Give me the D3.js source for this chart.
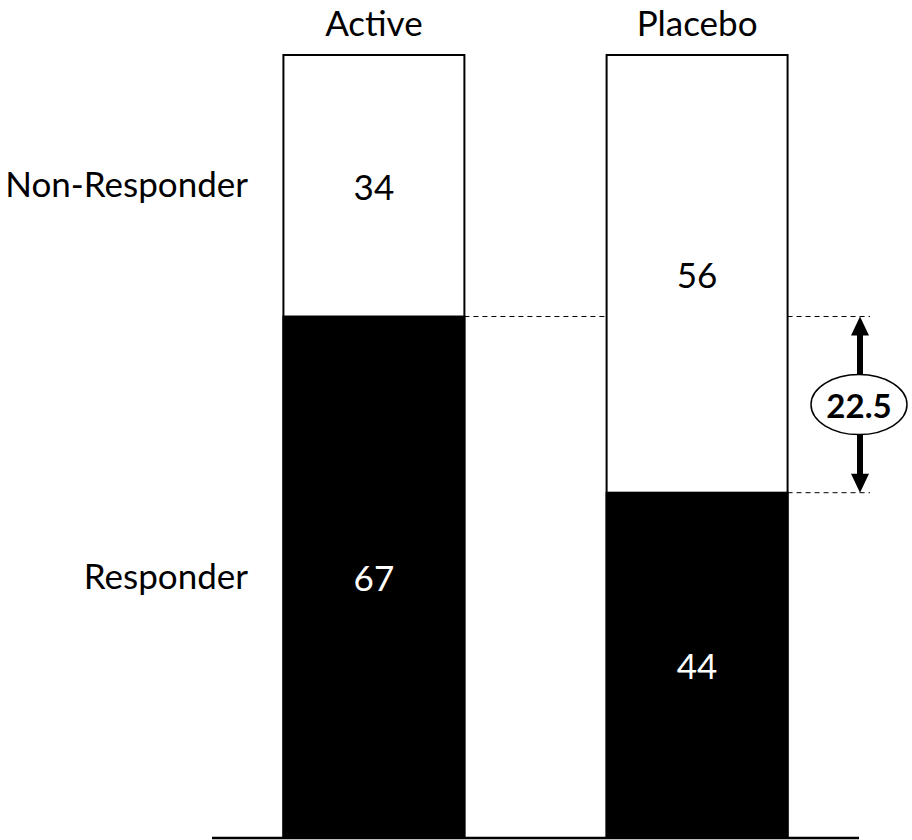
<!DOCTYPE html>
<html>
<head>
<meta charset="utf-8">
<script src="https://cdn.jsdelivr.net/npm/d3@7"></script>
<style>
body{margin:0;background:#fff;}
text{font-family:Lato,"Open Sans",sans-serif;}
</style>
</head>
<body>
<svg id="chart" width="912" height="840"></svg>
<script>
var groups = ["Active", "Placebo"];
var responderPct = [66.6, 44.1];
var responderN = [67, 44];
var nonResponderN = [34, 56];
var rowLabels = ["Non-Responder", "Responder"];
var diffLabel = "22.5";

var svg = d3.select("#chart");

var x = d3.scaleBand().domain(groups).range([212, 859]).paddingInner(0.44).paddingOuter(0.221);
var y = d3.scaleLinear().domain([0, 100]).range([838, 55]);
var fs = 35;

// white full bars (non-responders)
svg.selectAll("rect.full").data(groups).enter().append("rect")
	.attr("class","full")
	.attr("x", function(d){ return x(d); })
	.attr("y", y(100))
	.attr("width", x.bandwidth())
	.attr("height", y(0) - y(100))
	.attr("fill","#fff").attr("stroke","#000").attr("stroke-width",2);

// black responder part
svg.selectAll("rect.resp").data(groups).enter().append("rect")
	.attr("class","resp")
	.attr("x", function(d){ return x(d); })
	.attr("y", function(d,i){ return y(responderPct[i]); })
	.attr("width", x.bandwidth())
	.attr("height", function(d,i){ return y(0) - y(responderPct[i]); })
	.attr("fill","#000").attr("stroke","#000").attr("stroke-width",2);

// baseline
svg.append("line").attr("x1",212).attr("x2",859).attr("y1",y(0)).attr("y2",y(0))
	.attr("stroke","#000").attr("stroke-width",2.5);

// group titles
svg.selectAll("text.grp").data(groups).enter().append("text")
	.attr("x", function(d){ return x(d) + x.bandwidth()/2; })
	.attr("y", 36).attr("text-anchor","middle")
	.attr("font-size",fs).text(function(d){ return d; });

// row labels, level with the Active segments
var rowY = [y((100 + responderPct[0]) / 2) - 3, y(responderPct[0] / 2) - 2];
svg.selectAll("text.row").data(rowLabels).enter().append("text")
	.attr("x",248).attr("y", function(d,i){ return rowY[i]; })
	.attr("text-anchor","end").attr("dominant-baseline","central")
	.attr("font-size",fs).text(function(d){ return d; });

// values in segments
svg.selectAll("text.val").data(groups).enter().append("text")
	.attr("x", function(d){ return x(d) + x.bandwidth()/2; })
	.attr("y", function(d,i){ return y((100 + responderPct[i]) / 2); })
	.attr("text-anchor","middle").attr("dominant-baseline","central").attr("font-size",fs)
	.text(function(d,i){ return nonResponderN[i]; });
svg.selectAll("text.val2").data(groups).enter().append("text")
	.attr("x", function(d){ return x(d) + x.bandwidth()/2; })
	.attr("y", function(d,i){ return y(responderPct[i] / 2); })
	.attr("text-anchor","middle").attr("dominant-baseline","central").attr("font-size",fs).attr("fill","#fff")
	.text(function(d,i){ return responderN[i]; });

// dashed reference lines
var yA = y(responderPct[0]), yP = y(responderPct[1]);
var right = x("Placebo") + x.bandwidth();
svg.append("line").attr("x1", x("Active")+x.bandwidth()).attr("x2", x("Placebo"))
	.attr("y1",yA).attr("y2",yA).attr("stroke","#000").attr("stroke-dasharray","5,4");
svg.append("line").attr("x1", right).attr("x2", 870)
	.attr("y1",yA).attr("y2",yA).attr("stroke","#000").attr("stroke-dasharray","5,4");
svg.append("line").attr("x1", right).attr("x2", 870)
	.attr("y1",yP).attr("y2",yP).attr("stroke","#000").attr("stroke-dasharray","5,4");

// double arrow
var ax = 860;
svg.append("line").attr("x1",ax).attr("x2",ax).attr("y1",yA+14).attr("y2",yP-14)
	.attr("stroke","#000").attr("stroke-width",6);
svg.append("path").attr("d","M"+ax+","+yA+" L"+(ax-9)+","+(yA+19)+" L"+(ax+9)+","+(yA+19)+"Z").attr("fill","#000");
svg.append("path").attr("d","M"+ax+","+yP+" L"+(ax-9)+","+(yP-19)+" L"+(ax+9)+","+(yP-19)+"Z").attr("fill","#000");

var cy = (yA + yP) / 2;
svg.append("ellipse").attr("cx",ax-1).attr("cy",cy).attr("rx",48).attr("ry",30)
	.attr("fill","#fff").attr("stroke","#000").attr("stroke-width",1.5);
svg.append("text").attr("x",ax-1).attr("y",cy).attr("text-anchor","middle").attr("dominant-baseline","central")
	.attr("font-size",33).attr("font-weight","bold").text(diffLabel);
</script>
</body>
</html>
